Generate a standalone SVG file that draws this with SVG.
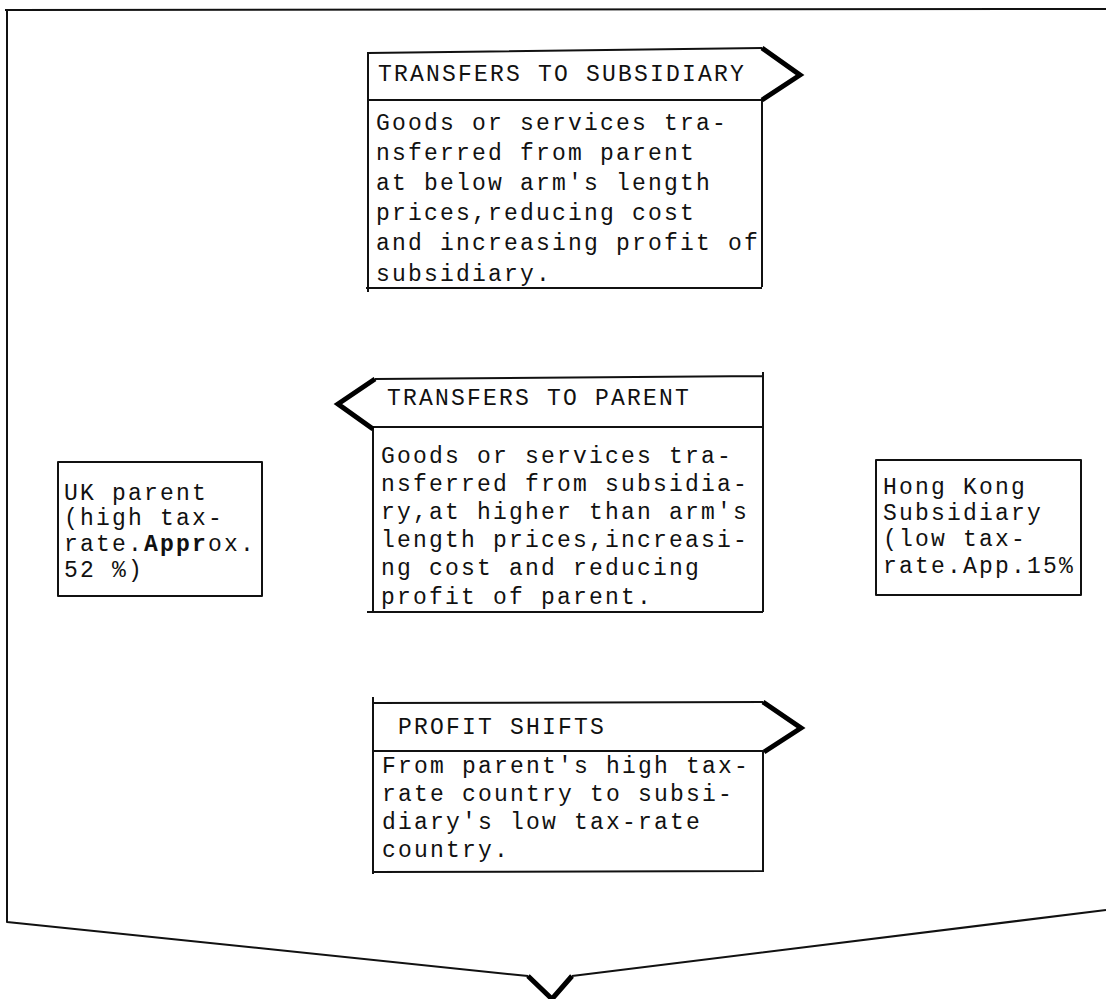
<svg xmlns="http://www.w3.org/2000/svg" width="1106" height="999" viewBox="0 0 1106 999">
<style>
.ln{fill:none;stroke:#111;stroke-width:2;stroke-linejoin:round}
.th{fill:none;stroke:#000;stroke-width:5;stroke-linejoin:miter}
text{font-family:"Liberation Mono","DejaVu Sans Mono",monospace;font-size:23px;letter-spacing:2.2px;fill:#111}
</style>
<rect width="1106" height="999" fill="#fff"/>
<g id="frame">
<path class="ln" d="M5 10 L1106 9 M7 10 L7 922 L528 976 M572 976 L1106 910"/>
<path class="th" d="M528 976 L552 999 L572 976" stroke-width="4"/>
</g>
<g id="transfers-to-subsidiary">
<path class="ln" d="M368 52 L368 292 M368 53 L762 48 M368 100 L762 100 M762 100 L762 287 M366 288 L762 288"/>
<path class="th" d="M762 48 L800 75 L762 100"/>
<text x="378" y="81">TRANSFERS TO SUBSIDIARY</text>
<text x="376" y="130">Goods or services tra-</text>
<text x="376" y="160">nsferred from parent</text>
<text x="376" y="190">at below arm's length</text>
<text x="376" y="220">prices,reducing cost</text>
<text x="376" y="250">and increasing profit of</text>
<text x="376" y="281">subsidiary.</text>
</g>
<g id="transfers-to-parent">
<path class="ln" d="M375 379 L763 376 M373 427 L763 427 M763 372 L763 612 M373 427 L373 612 M367 612 L763 612"/>
<path class="th" d="M375 379 L338 404 L373 429"/>
<text x="387" y="405">TRANSFERS TO PARENT</text>
<text x="381" y="463">Goods or services tra-</text>
<text x="381" y="491">nsferred from subsidia-</text>
<text x="381" y="519">ry,at higher than arm's</text>
<text x="381" y="547">length prices,increasi-</text>
<text x="381" y="575">ng cost and reducing</text>
<text x="381" y="604">profit  of parent.</text>
</g>
<g id="uk-parent">
<rect class="ln" x="58" y="462" width="204" height="134"/>
<text x="64" y="500">UK parent</text>
<text x="64" y="525">(high tax-</text>
<text x="64" y="551">rate.<tspan font-weight="bold">Appr</tspan>ox.</text>
<text x="64" y="577">52 %)</text>
</g>
<g id="hong-kong-subsidiary">
<rect class="ln" x="876" y="460" width="205" height="135"/>
<text x="883" y="494">Hong Kong</text>
<text x="883" y="520">Subsidiary</text>
<text x="883" y="546">(low tax-</text>
<text x="883" y="573">rate.App.15%</text>
</g>
<g id="profit-shifts">
<path class="ln" d="M373 697 L373 874 M373 703 L763 702 M373 751 L763 751 M763 751 L763 872 M373 872 L763 871"/>
<path class="th" d="M763 702 L801 728 L764 752"/>
<text x="398" y="734">PROFIT SHIFTS</text>
<text x="382" y="773">From parent's high tax-</text>
<text x="382" y="801">rate country to subsi-</text>
<text x="382" y="829">diary's low tax-rate</text>
<text x="382" y="857">country.</text>
</g>
</svg>
